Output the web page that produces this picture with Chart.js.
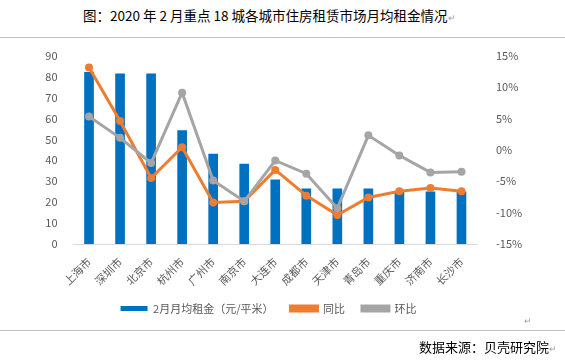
<!DOCTYPE html>
<html>
<head>
<meta charset="utf-8">
<script src="https://cdn.jsdelivr.net/npm/chart.js@4/dist/chart.umd.min.js"></script>
<style>
    body { margin: 0; width: 565px; height: 363px; background: #fff; position: relative; overflow: hidden; font-family: "Noto Sans CJK SC", sans-serif; }
    #title { position: absolute; left: 83px; top: 5px; font-size: 13.5px; color: #000; white-space: nowrap; }
    .mark { color: #a0a0a0; font-size: 9px; }
    .rule { position: absolute; left: 0; width: 565px; height: 1px; background: #c0c0c0; }
    #chart-box { position: absolute; left: 0; top: 38px; width: 565px; height: 286px; }
    #source { position: absolute; left: 419px; top: 337px; font-size: 13px; color: #000; white-space: nowrap; }
    #endmark { position: absolute; left: 524px; top: 314px; }
</style>
</head>
<body>
<div id="title">图：2020 年 2 月重点 18 城各城市住房租赁市场月均租金情况<span class="mark">↵</span></div>
<div class="rule" style="top:37px"></div>
<div id="chart-box"><canvas id="rentChart"></canvas></div>
<div class="rule" style="top:330px"></div>
<span id="endmark" class="mark">↵</span>
<div id="source">数据来源：贝壳研究院<span class="mark">↵</span></div>

<script>
// values
const cities = ["上海市", "深圳市", "北京市", "杭州市", "广州市", "南京市", "大连市", "成都市", "天津市", "青岛市", "重庆市", "济南市", "长沙市"];
const rentValues = [82, 81.3, 81.3, 54.2, 43, 38.2, 30.6, 26.3, 26.3, 26.3, 24.9, 24.9, 24.9];
const yoyValues = [13.1, 4.6, -4.5, 0.4, -8.4, -8.2, -3.2, -7.3, -10.4, -7.6, -6.6, -6.1, -6.6];
const momValues = [5.3, 1.9, -2.1, 9.1, -4.9, -8.2, -1.7, -3.8, -9.3, 2.3, -0.9, -3.6, -3.5];
const leftTicks = [0, 90, 10];
const rightTicks = [-15, 15, 5];

const tickFont = { family: "Noto Sans CJK SC", size: 11 };

// draws the round marker on top of the line legend boxes
const legendMarkers = {
    id: 'legendMarkers',
    afterDraw(chart) {
        const legend = chart.legend;
        if (!legend || !legend.legendHitBoxes) return;
        const ctx = chart.ctx;
        legend.legendItems.forEach((item, i) => {
            const ds = chart.data.datasets[item.datasetIndex];
            if (ds.type !== 'line') return;
            const box = legend.legendHitBoxes[i];
            const bw = legend.options.labels.boxWidth;
            ctx.save();
            ctx.fillStyle = ds.borderColor;
            ctx.beginPath();
            ctx.arc(box.left + bw / 2, box.top + box.height / 2, 3.5, 0, Math.PI * 2);
            ctx.fill();
            ctx.restore();
        });
    }
};

new Chart(document.getElementById("rentChart"), {
    type: 'bar',
    data: {
        labels: cities,
        datasets: [
            { type: 'bar', label: "2月月均租金（元/平米）", data: rentValues, backgroundColor: "#0070c0", barThickness: 9, yAxisID: 'y', order: 3 },
            { type: 'line', label: "同比", data: yoyValues, borderColor: "#ed7d31", backgroundColor: "#ed7d31", borderWidth: 3, pointRadius: 4, pointBackgroundColor: "#ed7d31", pointBorderWidth: 0, yAxisID: 'y1', order: 2 },
            { type: 'line', label: "环比", data: momValues, borderColor: "#a5a5a5", backgroundColor: "#a5a5a5", borderWidth: 3, pointRadius: 4, pointBackgroundColor: "#a5a5a5", pointBorderWidth: 0, yAxisID: 'y1', order: 1 }
        ]
    },
    options: {
        responsive: true,
        maintainAspectRatio: false,
        animation: false,
        layout: { padding: { top: 17, left: 0, right: 28, bottom: 0 } },
        plugins: {
            tooltip: { enabled: false },
            legend: {
                position: 'bottom',
                labels: {
                    boxWidth: 27, boxHeight: 5, font: tickFont, color: "#595959", padding: 17,
                    sort: (a, b) => a.datasetIndex - b.datasetIndex
                }
            }
        },
        scales: {
            x: {
                grid: { display: false },
                border: { color: "#d9d9d9" },
                ticks: { font: tickFont, color: "#595959", minRotation: 45, maxRotation: 45, autoSkip: false },
                afterFit: scale => { scale.height = 42; }
            },
            y: {
                position: 'left',
                min: leftTicks[0], max: leftTicks[1],
                grid: { display: false },
                border: { display: false },
                ticks: { stepSize: leftTicks[2], font: tickFont, color: "#595959", padding: 8 },
                afterFit: scale => { scale.width = 73.5; }
            },
            y1: {
                position: 'right',
                min: rightTicks[0], max: rightTicks[1],
                grid: { display: false },
                border: { display: false },
                ticks: { stepSize: rightTicks[2], font: tickFont, color: "#595959", padding: 11, callback: v => v + "%" },
                afterFit: scale => { scale.width = 60; }
            }
        }
    },
    plugins: [legendMarkers]
});
</script>
</body>
</html>
